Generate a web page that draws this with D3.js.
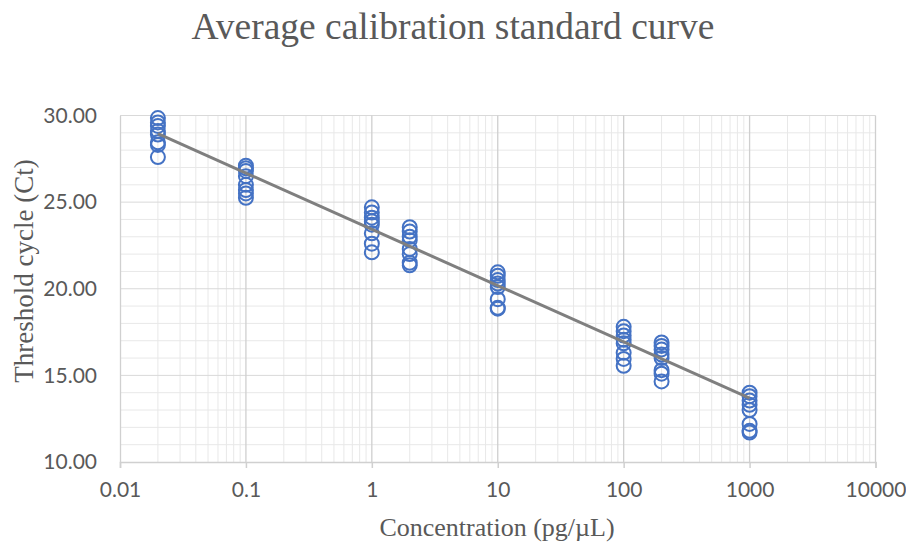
<!DOCTYPE html>
<html>
<head>
<meta charset="utf-8">
<script src="https://cdn.jsdelivr.net/npm/d3@7"></script>
<style>
  html, body { margin: 0; padding: 0; background: #ffffff; }
  svg { display: block; }
</style>
</head>
<body>
<svg id="chart" width="906" height="544"></svg>
<script>
// ---- Data ----
const concentrations = [0.02, 0.1, 1, 2, 10, 100, 200, 1000];
const ctValues = [
  [29.85, 29.6, 29.4, 29.1, 28.9, 28.45, 28.3, 27.6],
  [27.1, 26.95, 26.8, 26.5, 26.0, 25.7, 25.5, 25.25],
  [24.7, 24.4, 24.1, 23.9, 23.7, 23.2, 22.6, 22.1],
  [23.55, 23.3, 23.0, 22.8, 22.3, 22.0, 21.5, 21.35],
  [20.95, 20.75, 20.5, 20.3, 20.1, 19.4, 18.9, 18.85],
  [17.8, 17.55, 17.3, 17.05, 16.85, 16.3, 15.95, 15.55],
  [16.9, 16.7, 16.5, 16.2, 16.0, 15.3, 15.1, 14.65],
  [14.0, 13.8, 13.55, 13.3, 13.0, 12.2, 11.8, 11.7]
];
const xTickValues = [0.01, 0.1, 1, 10, 100, 1000, 10000];
const xTickLabels = ["0.01", "0.1", "1", "10", "100", "1000", "10000"];
const yTickValues = [10, 15, 20, 25, 30];
const yTickLabels = ["10.00", "15.00", "20.00", "25.00", "30.00"];
// Trend line (log-linear): Ct = intercept + slope*log10(conc)
const trendSlope = -3.25;
const trendIntercept = 23.43;
const trendRange = [0.02, 1000];

const titleText = "Average calibration standard curve";
const xTitleText = "Concentration (pg/µL)";
const yTitleText = "Threshold cycle (Ct)";

// ---- Layout ----
const svg = d3.select("#chart");
const plotLeft = 120, plotRight = 875.5, plotTop = 115.5, plotBottom = 462;

const x = d3.scaleLog().domain([0.01, 10000]).range([plotLeft, plotRight]);
const y = d3.scaleLinear().domain([10, 30]).range([plotBottom, plotTop]);

// minor gridlines
const xMinor = [];
for (let e = -2; e < 4; e++) {
  for (let k = 2; k <= 9; k++) xMinor.push(k * Math.pow(10, e));
}
const yMinor = d3.range(10, 31, 1).filter(v => v % 5 !== 0);

const grid = svg.append("g");
grid.selectAll(".xminor").data(xMinor).join("line")
  .attr("x1", d => x(d)).attr("x2", d => x(d))
  .attr("y1", plotTop).attr("y2", plotBottom)
  .attr("stroke", "#e8e8e8").attr("stroke-width", 1);
grid.selectAll(".yminor").data(yMinor).join("line")
  .attr("x1", plotLeft).attr("x2", plotRight)
  .attr("y1", d => y(d)).attr("y2", d => y(d))
  .attr("stroke", "#e8e8e8").attr("stroke-width", 1);
grid.selectAll(".ymajor").data(yTickValues.slice(1)).join("line")
  .attr("x1", plotLeft).attr("x2", plotRight)
  .attr("y1", d => y(d)).attr("y2", d => y(d))
  .attr("stroke", "#d9d9d9").attr("stroke-width", 1);
grid.selectAll(".xmajor").data(xTickValues.slice(1)).join("line")
  .attr("x1", d => x(d)).attr("x2", d => x(d))
  .attr("y1", plotTop).attr("y2", plotBottom)
  .attr("stroke", "#cfcfcf").attr("stroke-width", 1.3);

// axes
const xAxis = d3.axisBottom(x)
  .tickValues(xTickValues)
  .tickFormat((d, i) => xTickLabels[i])
  .tickSize(6).tickPadding(14);
const gx = svg.append("g").attr("transform", `translate(0,${plotBottom})`).call(xAxis);
gx.select(".domain").attr("stroke", "#d0d0d0").attr("stroke-width", 1.5);
gx.selectAll(".tick line").attr("stroke", "#d0d0d0").attr("stroke-width", 1.5);
gx.selectAll(".tick text")
  .attr("fill", "#595959")
  .style("font-family", "Lato, 'Open Sans', sans-serif")
  .style("font-size", "21px");

const yAxis = d3.axisLeft(y)
  .tickValues(yTickValues)
  .tickFormat((d, i) => yTickLabels[i])
  .tickSize(0).tickPadding(23);
const gy = svg.append("g").attr("transform", `translate(${plotLeft},0)`).call(yAxis);
gy.select(".domain").attr("stroke", "#d0d0d0").attr("stroke-width", 1.3);
gy.selectAll(".tick text")
  .attr("fill", "#595959")
  .style("font-family", "Lato, 'Open Sans', sans-serif")
  .style("font-size", "21px");

// points
const points = [];
concentrations.forEach((c, i) => ctValues[i].forEach(v => points.push({c, v})));
svg.append("g").selectAll("circle").data(points).join("circle")
  .attr("cx", d => x(d.c)).attr("cy", d => y(d.v))
  .attr("r", 7)
  .attr("fill", "none")
  .attr("stroke", "#4472c4")
  .attr("stroke-width", 2);

// trend line
const trendData = trendRange.map(c => ({c, v: trendIntercept + trendSlope * Math.log10(c)}));
svg.append("path")
  .datum(trendData)
  .attr("d", d3.line().x(d => x(d.c)).y(d => y(d.v)))
  .attr("stroke", "#7f7f7f")
  .attr("stroke-width", 3)
  .attr("fill", "none");

// titles
svg.append("text")
  .attr("x", 453).attr("y", 39)
  .attr("text-anchor", "middle")
  .attr("fill", "#595959")
  .style("font-family", "'Liberation Serif', 'Times New Roman', serif")
  .style("font-size", "37.5px")
  .text(titleText);

svg.append("text")
  .attr("x", 497).attr("y", 536)
  .attr("text-anchor", "middle")
  .attr("fill", "#595959")
  .style("font-family", "'Liberation Serif', 'Times New Roman', serif")
  .style("font-size", "26px")
  .text(xTitleText);

svg.append("text")
  .attr("transform", "translate(33,271) rotate(-90)")
  .attr("text-anchor", "middle")
  .attr("fill", "#595959")
  .style("font-family", "'Liberation Serif', 'Times New Roman', serif")
  .style("font-size", "27px")
  .text(yTitleText);
</script>
</body>
</html>
